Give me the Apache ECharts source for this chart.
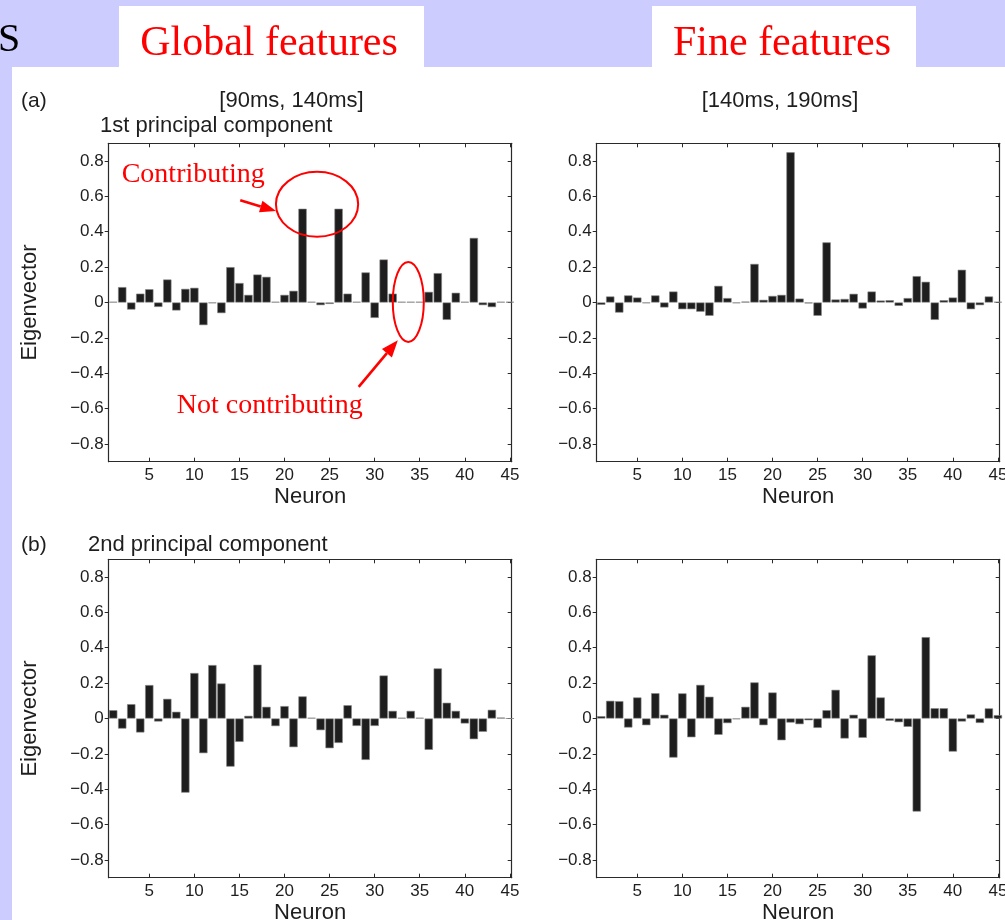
<!DOCTYPE html>
<html>
<head>
<meta charset="utf-8">
<script src="https://cdn.jsdelivr.net/npm/echarts@6/dist/echarts.min.js"></script>
<style>
  html, body { margin: 0; padding: 0; background: #ccccff; }
  #chart { width: 1005px; height: 920px; }
</style>
</head>
<body>
<div id="chart"></div>
<script>
// Neuron indices shared by all four panels
const neurons = [1, 2, 3, 4, 5, 6, 7, 8, 9, 10, 11, 12, 13, 14, 15, 16, 17, 18, 19, 20,
  21, 22, 23, 24, 25, 26, 27, 28, 29, 30, 31, 32, 33, 34, 35, 36, 37, 38, 39, 40,
  41, 42, 43, 44, 45];

// 1st principal component, window [90ms, 140ms]
const pc1Early = [0.004, 0.087, -0.04, 0.05, 0.075, -0.025, 0.13, -0.045, 0.077, 0.083,
  -0.128, -0.004, -0.06, 0.2, 0.11, 0.043, 0.158, 0.145, 0.004, 0.043,
  0.066, 0.53, 0.004, -0.015, -0.008, 0.53, 0.05, 0.004, 0.17, -0.087,
  0.243, 0.05, 0.004, 0.004, 0.004, 0.06, 0.166, -0.098, 0.055, 0.004,
  0.365, -0.015, -0.026, 0.004, 0.004];

// 1st principal component, window [140ms, 190ms]
const pc1Late = [-0.013, 0.034, -0.057, 0.04, 0.028, -0.004, 0.04, -0.028, 0.062, -0.038,
  -0.038, -0.052, -0.075, 0.094, 0.025, -0.004, 0.005, 0.218, 0.015, 0.037,
  0.043, 0.849, 0.022, -0.005, -0.075, 0.34, 0.017, 0.02, 0.049, -0.034,
  0.062, 0.011, 0.013, -0.019, 0.025, 0.149, 0.117, -0.098, 0.013, 0.028,
  0.185, -0.038, -0.015, 0.034, 0.004];

// 2nd principal component, window [90ms, 140ms]
const pc2Early = [0.047, -0.057, 0.081, -0.079, 0.189, -0.017, 0.111, 0.038, -0.419, 0.257,
  -0.196, 0.302, 0.198, -0.272, -0.132, 0.015, 0.304, 0.066, -0.043, 0.07,
  -0.162, 0.125, 0.004, -0.066, -0.168, -0.138, 0.075, -0.042, -0.234, -0.042,
  0.243, 0.043, 0.004, 0.043, 0.004, -0.177, 0.283, 0.089, 0.043, -0.028,
  -0.117, -0.075, 0.049, 0.005, 0];

// 2nd principal component, window [140ms, 190ms]
const pc2Late = [0.013, 0.1, 0.098, -0.051, 0.119, -0.038, 0.143, 0.021, -0.221, 0.142,
  -0.106, 0.19, 0.123, -0.092, -0.026, -0.004, 0.066, 0.204, -0.038, 0.147,
  -0.123, -0.023, -0.032, -0.01, -0.053, 0.047, 0.162, -0.113, 0.021, -0.109,
  0.357, 0.119, -0.013, -0.021, -0.047, -0.526, 0.46, 0.058, 0.058, -0.187,
  -0.017, 0.023, -0.025, 0.057, 0.019];

// Tick values / labels
const xTicks = [5, 10, 15, 20, 25, 30, 35, 40, 45];
const yTicks = [-0.8, -0.6, -0.4, -0.2, 0, 0.2, 0.4, 0.6, 0.8];

// Panel titles and texts
const headingLeft = 'Global features';
const headingRight = 'Fine features';
const windowLeft = '[90ms, 140ms]';
const windowRight = '[140ms, 190ms]';
const pcTitle1 = '1st principal component';
const pcTitle2 = '2nd principal component';
const xName = 'Neuron';
const yName = 'Eigenvector';

const SANS = "'Liberation Sans', Arial, Helvetica, sans-serif";
const SERIF = "'Liberation Serif', 'Times New Roman', serif";
const INK = '#1e1e1e';
const FRAME = '#2a2a2a';

const panels = [
  { left: 108.7, top: 143.3, values: pc1Early, yLabel: true },
  { left: 596.7, top: 143.3, values: pc1Late, yLabel: false },
  { left: 108.7, top: 559.3, values: pc2Early, yLabel: true },
  { left: 596.7, top: 559.3, values: pc2Late, yLabel: false }
];
const GRID_W = 403;
const GRID_H = 318.4;
const X_MIN = 0.5, X_MAX = 45.2, Y_MIN = -0.9, Y_MAX = 0.9;
// bars fill 92% of one neuron step
const BAR_PX = GRID_W / (X_MAX - X_MIN) * 0.92;

function yFmt(v) {
  if (Math.abs(v) < 1e-9) return '0';
  return (v < 0 ? '\u2212' : '') + Math.abs(v).toFixed(1);
}

const grids = [], xAxes = [], yAxes = [], series = [];
panels.forEach((p, i) => {
  grids.push({
    left: p.left, top: p.top, width: GRID_W, height: GRID_H,
    outerBoundsMode: 'none', containLabel: false, show: false
  });
  // bottom axis with labels
  xAxes.push({
    type: 'value', gridIndex: i, position: 'bottom', min: X_MIN, max: X_MAX,
    axisLine: { show: true, onZero: false, lineStyle: { color: FRAME, width: 1.2 } },
    axisTick: { show: true, inside: true, length: 4, customValues: xTicks, lineStyle: { color: FRAME } },
    axisLabel: { show: true, customValues: xTicks, margin: 5, fontSize: 17, fontFamily: SANS, color: INK },
    splitLine: { show: false },
    name: xName, nameLocation: 'middle', nameGap: 24,
    nameTextStyle: { fontSize: 22, fontFamily: SANS, color: INK }
  });
  // top frame edge
  xAxes.push({
    type: 'value', gridIndex: i, position: 'top', min: X_MIN, max: X_MAX,
    axisLine: { show: true, onZero: false, lineStyle: { color: FRAME, width: 1.2 } },
    axisTick: { show: true, inside: true, length: 4, customValues: xTicks, lineStyle: { color: FRAME } },
    axisLabel: { show: false },
    splitLine: { show: false }
  });
  // left axis with labels
  yAxes.push({
    type: 'value', gridIndex: i, position: 'left', min: Y_MIN, max: Y_MAX,
    axisLine: { show: true, onZero: false, lineStyle: { color: FRAME, width: 1.2 } },
    axisTick: { show: true, inside: false, length: 4, customValues: yTicks, lineStyle: { color: FRAME } },
    axisLabel: { show: true, customValues: yTicks, margin: 5, fontSize: 17, fontFamily: SANS, color: INK, formatter: yFmt },
    splitLine: { show: false },
    name: p.yLabel ? yName : '', nameLocation: 'middle', nameGap: 68, nameRotate: 90,
    nameTextStyle: { fontSize: 22, fontFamily: SANS, color: INK }
  });
  // right frame edge
  yAxes.push({
    type: 'value', gridIndex: i, position: 'right', min: Y_MIN, max: Y_MAX,
    axisLine: { show: true, onZero: false, lineStyle: { color: FRAME, width: 1.2 } },
    axisTick: { show: true, inside: true, length: 4, customValues: yTicks, lineStyle: { color: FRAME } },
    axisLabel: { show: false },
    splitLine: { show: false }
  });
  series.push({
    type: 'bar',
    xAxisIndex: 2 * i, yAxisIndex: 2 * i,
    data: neurons.map((n, k) => [n, p.values[k]]),
    barWidth: BAR_PX,
    clip: true,
    silent: true,
    animation: false,
    itemStyle: { color: '#1e1e1e', borderColor: '#858585', borderWidth: 0.6 }
  });
});

function txt(x, y, text, font, fill, align, z) {
  return {
    type: 'text', x: x, y: y, z: z || 10, silent: true,
    style: { text: text, font: font, fill: fill, align: align || 'left', verticalAlign: 'middle' }
  };
}

const backdrop = [
  { type: 'rect', z: -10, silent: true, shape: { x: 12, y: 67, width: 993, height: 853 }, style: { fill: '#fff' } },
  { type: 'rect', z: -10, silent: true, shape: { x: 119, y: 6, width: 305, height: 62 }, style: { fill: '#fff' } },
  { type: 'rect', z: -10, silent: true, shape: { x: 652, y: 6, width: 264, height: 62 }, style: { fill: '#fff' } },
  txt(-2, 40, 'S', '40px ' + SERIF, '#000'),
  txt(269, 44, headingLeft, '42px ' + SERIF, '#ff0000', 'center'),
  txt(782, 44, headingRight, '42px ' + SERIF, '#ff0000', 'center'),
  txt(21, 101, '(a)', '21px ' + SANS, INK),
  txt(291.5, 101, windowLeft, '22px ' + SANS, INK, 'center'),
  txt(780, 101, windowRight, '22px ' + SANS, INK, 'center'),
  txt(100, 126, pcTitle1, '22px ' + SANS, INK),
  txt(21, 545, '(b)', '21px ' + SANS, INK),
  txt(88, 545, pcTitle2, '22px ' + SANS, INK)
];

const chart = echarts.init(document.getElementById('chart'), null, { renderer: 'canvas' });
chart.setOption({
  backgroundColor: '#ccccff',
  animation: false,
  grid: grids,
  xAxis: xAxes,
  yAxis: yAxes,
  series: series,
  graphic: { elements: backdrop }
});

// Annotations placed in the data space of the first panel
const toPx = (x, y) => chart.convertToPixel({ xAxisIndex: 0, yAxisIndex: 0 }, [x, y]);
const RED = '#ff0000';

function ellipseAround(cx, cy, rx, ry) {
  const c = toPx(cx, cy);
  const e = toPx(cx + rx, cy + ry);
  return {
    type: 'ellipse', z: 20, silent: true,
    shape: { cx: c[0], cy: c[1], rx: Math.abs(e[0] - c[0]), ry: Math.abs(c[1] - e[1]) },
    style: { fill: null, stroke: RED, lineWidth: 2 }
  };
}

function arrow(x0, y0, x1, y1, headLen, headHalf) {
  const a = toPx(x0, y0), b = toPx(x1, y1);
  const dx = b[0] - a[0], dy = b[1] - a[1];
  const len = Math.sqrt(dx * dx + dy * dy);
  const ux = dx / len, uy = dy / len;
  const bx = b[0] - ux * headLen, by = b[1] - uy * headLen;
  return [
    { type: 'line', z: 20, silent: true,
      shape: { x1: a[0], y1: a[1], x2: bx, y2: by },
      style: { stroke: RED, lineWidth: 2.6 } },
    { type: 'polygon', z: 20, silent: true,
      shape: { points: [[b[0], b[1]], [bx - uy * headHalf, by + ux * headHalf], [bx + uy * headHalf, by - ux * headHalf]] },
      style: { fill: RED } }
  ];
}

function label(x, y, text) {
  const p = toPx(x, y);
  return txt(p[0], p[1], text, '28px ' + SERIF, RED, 'left', 20);
}

const notes = [
  ellipseAround(23.61, 0.555, 4.56, 0.1835),
  ellipseAround(33.73, 0.0034, 1.72, 0.226),
  label(1.94, 0.72, 'Contributing'),
  label(8.06, -0.582, 'Not contributing')
].concat(
  arrow(15.09, 0.578, 19.06, 0.517, 16, 6),
  arrow(28.23, -0.477, 32.57, -0.213, 17, 6.5)
);

chart.setOption({ graphic: { elements: backdrop.concat(notes) } }, { replaceMerge: ['graphic'] });
</script>
</body>
</html>
